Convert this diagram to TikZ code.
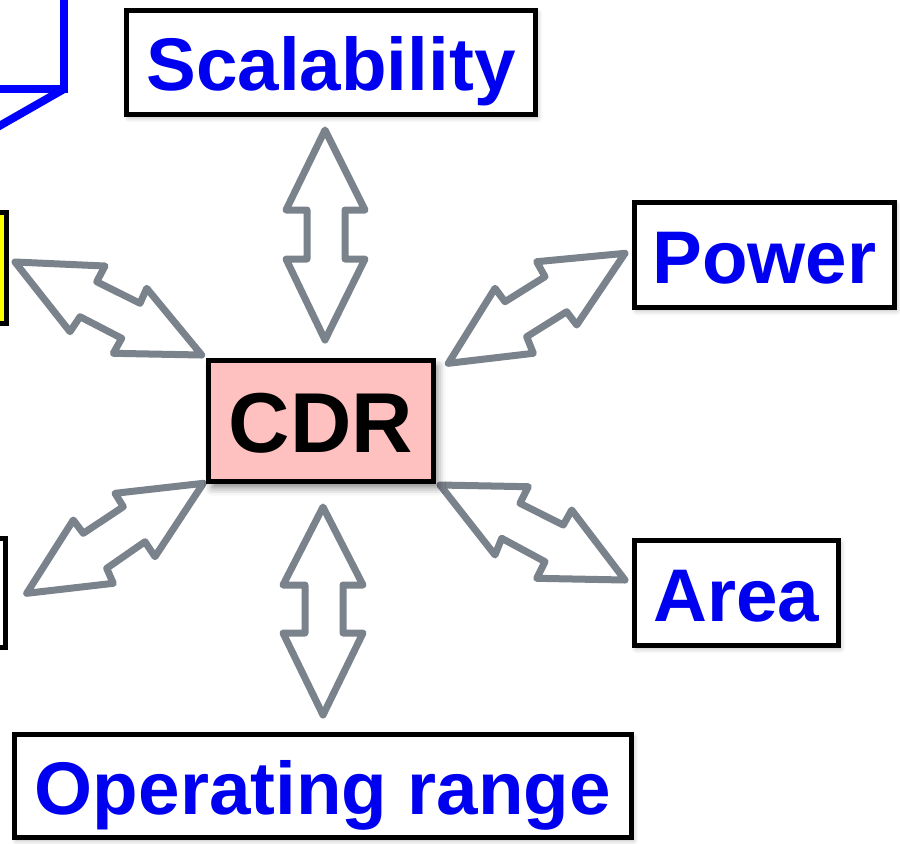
\documentclass[tikz,border=0pt]{standalone}
\usepackage{fontspec}
\setmainfont{Liberation Sans}
\usetikzlibrary{shadows.blur}

\definecolor{textblue}{RGB}{0,0,240}
\definecolor{arrowgray}{RGB}{122,130,140}
\definecolor{cdrpink}{RGB}{255,192,192}
\definecolor{noteyellow}{RGB}{255,255,0}

\tikzset{
  boxshadow/.style={blur shadow={shadow xshift=1pt, shadow yshift=-1.5pt, shadow blur radius=2.5pt, shadow opacity=30}},
  topic/.style={draw=black, line width=2.5pt, fill=white, inner sep=0pt,
    text height=28pt, text depth=0pt,
    font=\fontsize{37.3}{40}\selectfont\bfseries, text=textblue, boxshadow},
  core/.style={draw=black, line width=2.5pt, fill=cdrpink, inner sep=0pt,
    text height=31pt, text depth=0pt,
    font=\fontsize{42.5}{46}\selectfont\bfseries, text=black,
    blur shadow={shadow xshift=2pt, shadow yshift=-3pt, shadow blur radius=4pt, shadow opacity=50}},
  dblarrow/.style={draw=arrowgray, line width=3.5pt, fill=white, line join=round},
  partial/.style={draw=black, line width=2.5pt}
}

\begin{document}
\begin{tikzpicture}[x=0.5pt, y=-0.5pt]
\useasboundingbox (0,0) rectangle (900,843);
\clip (0,0) rectangle (900,843);

% shapes cut off at the left edge
\draw[blue, line width=4pt, line join=miter] (-20,89) -- (64,89) -- (64,-20);
\draw[blue, line width=4pt] (64,89) -- (-20,137);
\draw[partial, fill=noteyellow] (-100,212) rectangle (6,323);
\draw[partial, fill=white] (-100,538) rectangle (5,647);

% double-headed block arrows around the core box
\draw[dblarrow] (325,130) -- (365,210) -- (345,210) -- (345,259) -- (365,259) -- (325,340)
  -- (286,259) -- (307,259) -- (307,210) -- (286,210) -- cycle;
\draw[dblarrow] (323,507) -- (363,585) -- (343,585) -- (343,633) -- (363,633) -- (323,715)
  -- (283,633) -- (305,633) -- (305,585) -- (283,585) -- cycle;
\draw[dblarrow] (15,262) -- (105,266) -- (96.7,281.7) -- (140,303.3) -- (146.7,288.3) -- (201.7,355)
  -- (113.3,353.3) -- (121.7,338.3) -- (80,316.7) -- (70,331.7) -- cycle;
\draw[dblarrow] (203.3,483.3) -- (115,493.3) -- (123.3,506.7) -- (83.3,533.3) -- (73.3,520) -- (26.7,593.3)
  -- (113.3,583.3) -- (106.7,568.3) -- (145,541.7) -- (155,556.7) -- cycle;
\draw[dblarrow] (625,253.3) -- (536.7,261.7) -- (545,276.7) -- (505,301.7) -- (495,288.3) -- (448.3,363.3)
  -- (533.3,353.3) -- (526.7,336.7) -- (566.7,311.7) -- (576.7,325) -- cycle;
\draw[dblarrow] (440,485) -- (528.3,486.7) -- (520,503.3) -- (563.3,525) -- (571.7,510) -- (625,580)
  -- (536.7,578.3) -- (545,561.7) -- (501.7,538.3) -- (495,555) -- cycle;

% labelled boxes
\node[core, minimum width=112.5pt, minimum height=60.5pt] (cdr) at (321,421) {CDR};
\node[topic, minimum width=204.5pt, minimum height=52pt] (scal) at (331,62.5) {Scalability};
\node[topic, minimum width=130pt, minimum height=52.5pt] (power) at (764.5,255) {Power};
\node[topic, minimum width=102pt, minimum height=52.5pt] (area) at (736.5,593) {Area};
\node[topic, minimum width=308.5pt, minimum height=51.5pt] (oprange) at (323,786) {Operating range};
\end{tikzpicture}
\end{document}
